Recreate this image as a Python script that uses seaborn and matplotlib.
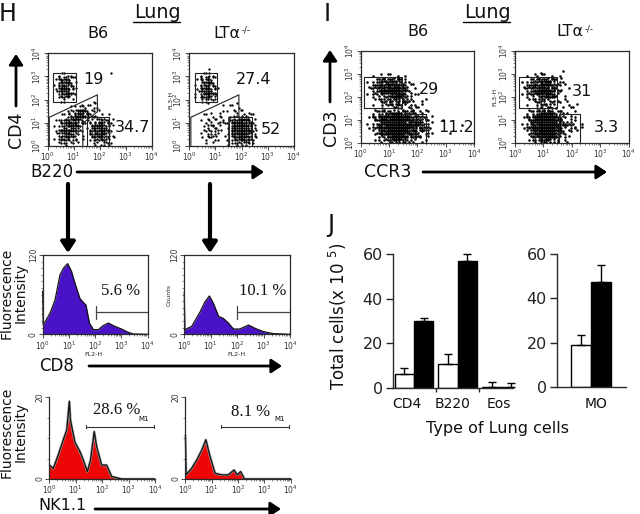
import numpy as np
import pandas as pd
import matplotlib
matplotlib.use("Agg")
import matplotlib.pyplot as plt
from matplotlib.ticker import FixedLocator, MultipleLocator
import seaborn as sns

sns.set_style("white")
plt.rcParams['font.family'] = ['DejaVu Sans']
plt.rcParams['mathtext.default'] = 'regular'

# ---------- data ----------
H1_GRID = ["00000000000000000000","00000000000000000000","00000000000000000000","00000000000000000000",
"00221000000010000000","01563100000000000000","01674100000000000000","01785100000000000000",
"01684100000000000000","00352000000000000000","00110000110000000000","00001132210000000000",
"00013585210000000000","00124786321100000000","01356741245310000000","01469731477520000000",
"01478521689510000000","01476310578410000000","01464210456310000000","00232100123310000000"]
H2_GRID = ["00000000000000000000","00000000000000000000","00000000000000000000","00010000000000000000",
"00231000000000000000","01463000000000000000","01574000000000000000","01575100000000000000",
"02695100000000000000","01574000000000000000","00121000010000000000","00000011110000000000",
"00001111221100000000","00111111123210000000","00122221588510000000","00123211799620000000",
"00133211899730000000","00123211789520000000","00122101578420000000","00011001244210000000"]
I1_GRID = ["00000000000000000000","00000000000000000000","00000000000000000000","00000000000000000000",
"00000000000000000000","00112221000000000000","01356654100000000000","01467875210000000000",
"01468997210000000000","01345786311000000000","00234675311100000000","00123454211000000000",
"00111222221100000000","00245666542100000000","01478999765310000000","01479999876410100000",
"01378999875410000100","00267999764310010000","00146898653200000000","00123675321100000000"]
I2_GRID = ["00000000000000000000","00000000000000000000","00000000000000000000","00000000000000000000",
"00001000100000000000","00122221100000000000","01356752100000000000","01467863100000000000",
"01468973110000000000","01357862100000000000","00234551110000000000","00123331011000000000",
"00113321111000000000","00246874211000000000","01489996321000000000","01589998432100000000",
"01489998432100000000","00379996321000000000","00268995210000000000","00135742110000000000"]
# order in which the sub-cell spots of a density cell are filled
SPOTS = [(1,1),(0,2),(2,0),(2,2),(0,0),(1,2),(2,1),(0,1),(1,0)]

CD8A_X = [0,0.02,0.28,0.47,0.66,0.79,0.95,1.1,1.23,1.42,1.65,1.78,1.93,2.12,2.3,2.5,2.75,3.0,3.26,3.45,4]
CD8A_Y = [65,14,32,52,90,100,107,95,77,54,44,17,7,7,13,17,12,8,3,0.5,0]
CD8B_X = [0,0.02,0.28,0.6,0.78,0.95,1.1,1.3,1.48,1.67,1.86,2.1,2.43,2.68,3.0,3.38,4]
CD8B_Y = [64,7,12,34,49,58,47,27,24,17,8,8,14,9,4,1,0]
NKA_X = [0,0.15,0.34,0.53,0.66,0.76,0.8,0.97,1.16,1.29,1.44,1.56,1.7,1.79,1.98,2.17,2.36,2.55,2.74,4]
NKA_Y = [3.4,2.6,5.9,9.6,12,19,14.4,9,6.7,4.6,1.8,4.6,11.6,8,3.4,3.4,0.6,0.3,0,0]
NKB_X = [0,0.03,0.24,0.43,0.62,0.78,0.94,1.13,1.38,1.63,1.85,1.97,2.1,2.2,2.24,4]
NKB_Y = [10.8,1,2.6,4.6,7,9.6,5.5,1.4,1,1,2.2,1,1.8,0.6,0,0]

CELLS = ["CD4", "B220", "Eos"]
STRAINS = ["B6", "LTa"]
J_B6 = [6, 10.5, 0.5]
J_LTA = [30, 57, 0.5]
J_B6_ERR = [2.8, 4.5, 2]
J_LTA_ERR = [1.5, 3, 1.5]
MO_B6, MO_LTA = [19], [47.5]
MO_B6_ERR, MO_LTA_ERR = [4.5], [7.5]

H_PCT = ["19", "34.7", "27.4", "52"]
I_PCT = ["29", "11.2", "31", "3.3"]
CD8_PCT = ["5.6 %", "10.1 %"]
NK_PCT = ["28.6 %", "8.1 %"]

GATE_H1 = [[(0.22,1.88),(1.08,1.88),(1.08,3.13),(0.22,3.13),(0.22,1.88)],
           [(0.06,0),(0.06,1.23),(1.91,2.2),(1.91,1.47),(1.35,0.97),(1.35,0)],
           [(1.53,0),(1.53,1.23),(2.37,1.23),(2.37,0)]]
GATE_H2 = [[(0.22,1.88),(1.08,1.88),(1.08,3.13),(0.22,3.13),(0.22,1.88)],
           [(0.06,0),(0.06,1.23),(1.9,2.2),(1.9,1.23),(1.51,1.23),(1.51,0)],
           [(1.51,0),(1.51,1.23),(2.4,1.23),(2.4,0)]]
GATE_I1 = [[(0.13,1.52),(1.47,1.52),(1.47,2.84),(0.13,2.84),(0.13,1.52)],
           [(1.47,1.23),(2.29,1.23),(2.29,0)]]
GATE_I2 = [[(0.15,1.52),(1.49,1.52),(1.49,2.84),(0.15,2.84),(0.15,1.52)],
           [(1.54,0),(1.54,1.23),(2.3,1.23),(2.3,0)]]

# ---------- layout ----------
W, H = 640, 514
fig = plt.figure(figsize=(6.4, 5.14), dpi=100, facecolor="white")
bg = fig.add_axes([0, 0, 1, 1])
bg.set_xlim(0, W); bg.set_ylim(H, 0); bg.axis("off")

def rect(l, r, t, b):
    return [l / W, 1 - b / H, (r - l) / W, (b - t) / H]

MINOR = [k + np.log10(m) for k in range(4) for m in range(2, 10)]
DECADES = [0, 1, 2, 3, 4]
DEC_LABELS = [f"$10^{{{d}}}$" for d in DECADES]

def log_x(ax):
    ax.set_xlim(0, 4)
    ax.xaxis.set_major_locator(FixedLocator(DECADES))
    ax.xaxis.set_minor_locator(FixedLocator(MINOR))
    ax.set_xticklabels(DEC_LABELS, fontsize=5.5, color="#333333")
    ax.tick_params(axis="x", which="major", length=3, width=0.6, pad=0.5, bottom=True, color="#333333")
    ax.tick_params(axis="x", which="minor", length=1.5, width=0.4, bottom=True, color="#333333")

def frame(ax, lw=0.9, sides=("left", "right", "top", "bottom")):
    for name, sp in ax.spines.items():
        sp.set_visible(name in sides)
        sp.set_linewidth(lw)
        sp.set_color("#2a2a2a")

def grid_points(grid):
    px, py = [], []
    for r, row in enumerate(grid):
        for c, ch in enumerate(row):
            start = (r * 4 + c * 7) % 9
            for k in range(int(ch)):
                sx, sy = SPOTS[(start + k) % 9]
                px.append((c + (sx + 0.5) / 3) * 0.2)
                py.append((19 - r + (sy + 0.5) / 3) * 0.2)
    return pd.DataFrame({"x": px, "y": py})

def dot_panel(grid, gates, box, size):
    ax = fig.add_axes(rect(*box))
    ax.patch.set_visible(False)
    sns.scatterplot(data=grid_points(grid), x="x", y="y", ax=ax, s=size, color="black",
                    linewidth=0, marker="o")
    ax.set_xlabel(""); ax.set_ylabel("")
    log_x(ax)
    ax.set_ylim(0, 4)
    ax.yaxis.set_major_locator(FixedLocator(DECADES))
    ax.yaxis.set_minor_locator(FixedLocator(MINOR))
    ax.set_yticklabels(DEC_LABELS, fontsize=5.5, rotation=90, va="center", color="#333333")
    ax.tick_params(axis="y", which="major", length=3, width=0.6, pad=0.5, left=True, color="#333333")
    ax.tick_params(axis="y", which="minor", length=1.5, width=0.4, left=True, color="#333333")
    frame(ax)
    for g in gates:
        xs, ys = zip(*g)
        ax.plot(xs, ys, color="#222222", lw=0.8, clip_on=False)
    return ax

def hist_panel(x, y, box, color, ymax, minor, sides, edge="#111111", halo=None):
    ax = fig.add_axes(rect(*box))
    ax.patch.set_visible(False)
    d = pd.DataFrame({"x": x, "y": y})
    ax.fill_between(d["x"], 0, d["y"], color=color, lw=0)
    if halo:
        sns.lineplot(data=d, x="x", y="y", ax=ax, estimator=None, sort=False, color=halo, lw=1.8)
    sns.lineplot(data=d, x="x", y="y", ax=ax, estimator=None, sort=False, color=edge, lw=0.9, clip_on=False)
    log_x(ax)
    ax.set_ylim(0, ymax)
    ax.set_yticks([0, ymax])
    ax.yaxis.set_minor_locator(MultipleLocator(minor))
    ax.set_yticklabels(["0", str(ymax)], fontsize=5.5, rotation=90, va="center", color="#333333")
    ax.tick_params(axis="y", which="major", length=3, width=0.6, pad=0.5, left=True, color="#333333")
    ax.tick_params(axis="y", which="minor", length=1.5, width=0.4, left=True, color="#333333")
    ax.set_xlabel(""); ax.set_ylabel("")
    frame(ax, sides=sides)
    return ax

def txt(x, y, s, size=11.5, **kw):
    kw.setdefault("ha", "center"); kw.setdefault("va", "center"); kw.setdefault("color", "#111111")
    bg.text(x, y, s, fontsize=size, **kw)

def arrow(x0, y0, x1, y1, lw=2.0, hw=6, hl=9):
    bg.annotate("", xy=(x1, y1), xytext=(x0, y0), xycoords="data", textcoords="data",
                arrowprops=dict(arrowstyle=f"-|>,head_length={hl/10},head_width={hw/10}",
                                lw=lw, color="black", shrinkA=0, shrinkB=0, mutation_scale=7))

# ---------- dot plots ----------
dot_panel(H1_GRID, GATE_H1, (47.7, 151.7, 53.3, 145.7), 2.8)
dot_panel(H2_GRID, GATE_H2, (189.3, 293.7, 53.3, 145.7), 2.8)
dot_panel(I1_GRID, GATE_I1, (360.7, 474, 50.7, 142.7), 3.4)
dot_panel(I2_GRID, GATE_I2, (515, 628.7, 50.7, 142.7), 3.4)
txt(170.5, 100, "FL3-H", 4.5, rotation=90, color="#222222")
txt(495, 97, "FL3-H", 4.5, rotation=90, color="#222222")

# ---------- histograms ----------
PURPLE, RED = "#4a12c6", "#ee0505"
a = hist_panel(CD8A_X, CD8A_Y, (42.7, 147.7, 255, 334.3), PURPLE, 120, 10, ("left","right","top","bottom"))
b = hist_panel(CD8B_X, CD8B_Y, (184.3, 290, 255, 334.3), PURPLE, 120, 10, ("left","right","top","bottom"))
for ax, gx in ((a, 2.02), (b, 1.99)):
    ax.plot([gx, gx], [23, 43], color="#444444", lw=0.9)
    ax.plot([gx, 4], [33, 33], color="#444444", lw=0.9)
c = hist_panel(NKA_X, NKA_Y, (49.3, 155, 397.3, 479), RED, 20, 5, ("left","bottom"), halo="#9a9a9a")
d = hist_panel(NKB_X, NKB_Y, (185.3, 290.7, 397.3, 479), RED, 20, 5, ("left","bottom"), halo="#9a9a9a")
for ax, g0, g1 in ((c, 1.375, 3.96), (d, 1.37, 3.95)):
    ax.plot([g0, g1], [12.8, 12.8], color="#333333", lw=0.8)
    ax.plot([g0, g0], [12.4, 13.2], color="#333333", lw=0.8)
    ax.plot([g1, g1], [12.4, 13.2], color="#333333", lw=0.8)
txt(93, 354.5, "FL2-H", 4.5, color="#222222"); txt(236, 354.5, "FL2-H", 4.5, color="#222222")
txt(169, 295, "Counts", 4.5, rotation=90, color="#222222")

# ---------- bars ----------
def bars(box, cells, v1, v2, e1, e2, width, xlim):
    ax = fig.add_axes(rect(*box))
    ax.patch.set_visible(False)
    df = pd.DataFrame({"cell": list(cells) * 2,
                       "strain": [STRAINS[0]] * len(cells) + [STRAINS[1]] * len(cells),
                       "value": list(v1) + list(v2)})
    sns.barplot(data=df, x="cell", y="value", hue="strain", order=list(cells), hue_order=STRAINS,
                palette=["white", "black"], edgecolor="black", linewidth=1, width=width,
                gap=0, errorbar=None, legend=False, ax=ax)
    for cont, val, err in zip(ax.containers, (v1, v2), (e1, e2)):
        xc = [p.get_x() + p.get_width() / 2 for p in cont]
        ax.errorbar(xc, val, yerr=[np.zeros(len(val)), err], fmt="none", ecolor="black",
                    elinewidth=1, capsize=3, capthick=1, clip_on=False)
    ax.set_xlim(*xlim); ax.set_ylim(0, 60)
    ax.set_yticks([0, 20, 40, 60])
    ax.tick_params(axis="y", labelsize=11.5, length=5, width=1, left=True, pad=2, labelcolor="#222222")
    ax.set_xlabel(""); ax.set_ylabel("")
    frame(ax, lw=1, sides=("left", "bottom"))
    return ax

j1 = bars((392.7, 513, 254.3, 387.7), CELLS, J_B6, J_LTA, J_B6_ERR, J_LTA_ERR, 0.89, (-0.49, 2.27))
j1.set_xticks([0.5, 1.5]); j1.set_xticklabels([]); j1.tick_params(axis="x", bottom=True, length=3, width=1)
j2 = bars((556.7, 625.7, 254.3, 386.7), ["MO"], MO_B6, MO_LTA, MO_B6_ERR, MO_LTA_ERR, 1.0, (-0.873, 0.883))
j2.set_xticks([]); j2.set_xticklabels([])

# ---------- text ----------
txt(8, 14, "H", 17); txt(327, 14, "I", 17)
txt(157, 13, "Lung", 13.8); bg.plot([133, 180], [22, 22], color="black", lw=1)
txt(487, 13, "Lung", 13.8); bg.plot([463, 510], [22, 22], color="black", lw=1)
txt(98, 33, "B6"); txt(418, 32, "B6")
txt(213, 33, "LTα", ha="left"); txt(242, 30, "-/-", 6, ha="left")
txt(556, 32, "LTα", ha="left"); txt(585, 29, "-/-", 6, ha="left")
for pos, s in zip([(93, 80), (132, 128), (254, 80), (271, 130)], H_PCT):
    txt(*pos, s)
for pos, s in zip([(429, 90), (456, 127), (582, 91), (606, 128)], I_PCT):
    txt(*pos, s)
txt(16, 130, "CD4", 12.5, rotation=90); txt(52, 172, "B220", 12)
txt(331, 128, "CD3", 12.5, rotation=90); txt(388, 172, "CCR3", 12.5)
txt(57, 366, "CD8", 12); txt(62, 505, "NK1.1", 11.5)
txt(13.5, 293, "Fluorescence\nIntensity", 10, rotation=90, linespacing=1.0)
txt(13.5, 432, "Fluorescence\nIntensity", 10, rotation=90, linespacing=1.0)
for pos, s in zip([(121, 291), (263, 291), (117, 410), (251, 412)], CD8_PCT + NK_PCT):
    txt(*pos, s, 12, family="Liberation Serif")
txt(144, 419, "M1", 5); txt(280, 419, "M1", 5)

txt(331, 225, "J", 17)
txt(338, 316, "Total cells(x 10 $^{5}$)", 12, rotation=90)
for x, s in zip((407, 453, 499), CELLS):
    txt(x, 404, s, 10)
txt(596, 404, "MO", 10)
txt(497, 428, "Type of Lung cells", 11.5)

# ---------- arrows ----------
arrow(16, 106, 16, 54)
arrow(77, 172, 264, 172)
arrow(68, 184, 68, 253, lw=3)
arrow(210, 184, 210, 253, lw=3)
arrow(89, 366, 282, 366)
arrow(95, 509, 281, 509)
arrow(330, 102, 330, 50)
arrow(423, 172, 607, 172)

fig.savefig("out.png", dpi=100)
